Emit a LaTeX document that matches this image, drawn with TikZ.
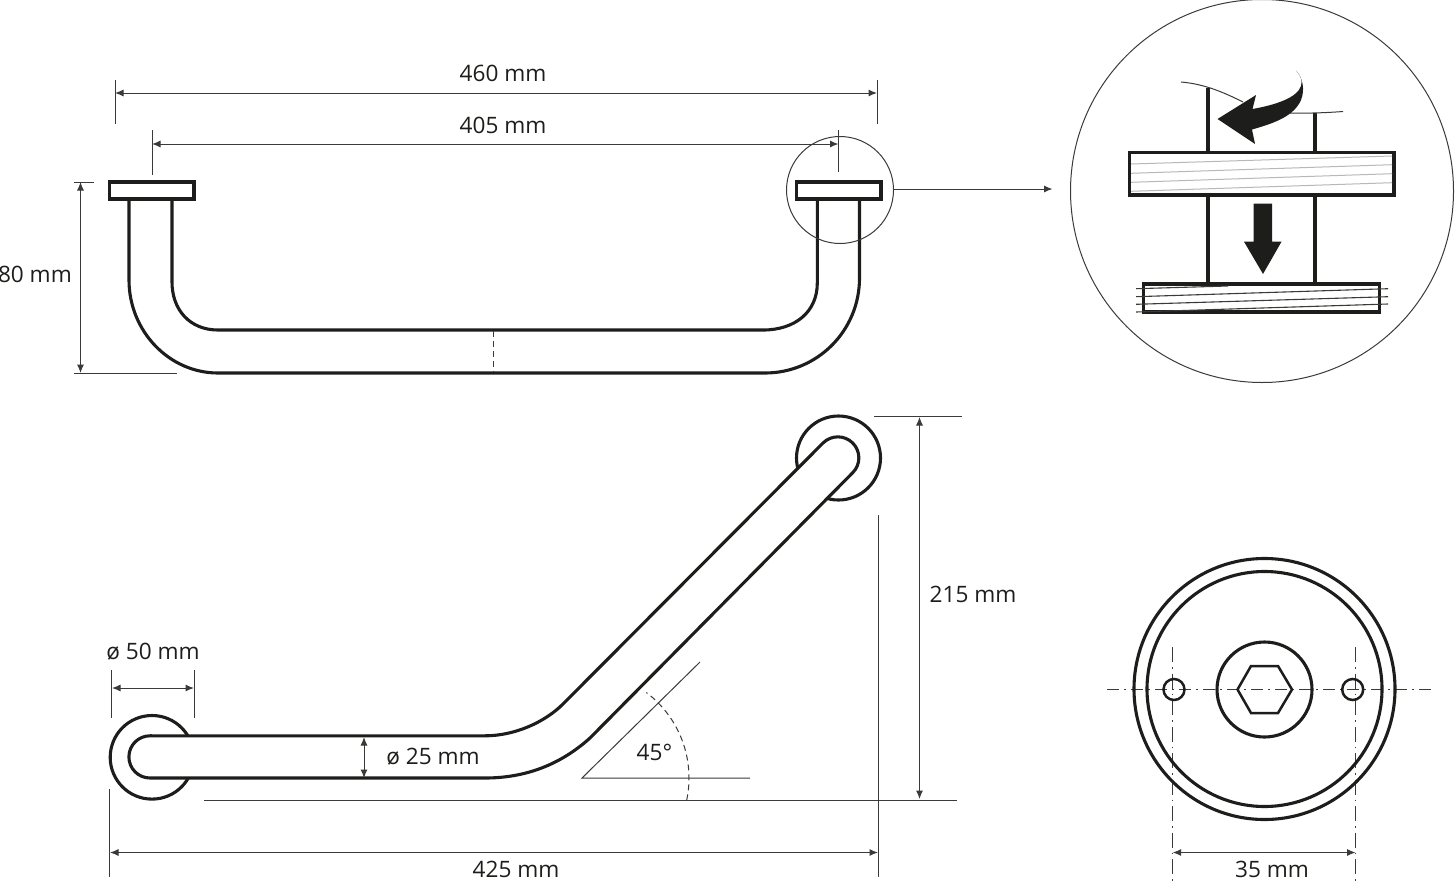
\documentclass[tikz,border=0pt]{standalone}
\usepackage{fontspec}
\setmainfont{Open Sans}
\usetikzlibrary{arrows.meta}
\definecolor{ink}{HTML}{1D1D1B}
\definecolor{thin}{HTML}{3A3A38}
\tikzset{
  heavy/.style={draw=ink,line width=3.1pt,line join=miter},
  fine/.style={draw=thin,line width=1pt},
  dim/.style={draw=thin,line width=1pt,{Latex[length=8.5pt,width=7pt]}-{Latex[length=8.5pt,width=7pt]}},
  dimone/.style={draw=thin,line width=1pt,-{Latex[length=8.5pt,width=7pt]}},
  lbl/.style={font=\fontsize{22.6pt}{25pt}\selectfont,text=ink,inner sep=0pt},
  grain/.style={draw=black!28,line width=1pt},
  grainb/.style={draw=thin,line width=1.1pt},
  centre/.style={draw=thin,line width=1pt,dash pattern=on 12pt off 5pt on 2pt off 5pt},
  dashline/.style={draw=thin,line width=1pt,dash pattern=on 6pt off 4pt},
  vdash/.style={draw=thin,line width=1pt,dash pattern=on 15pt off 5pt on 1.5pt off 5pt},
}
\begin{document}
\begin{tikzpicture}[x=1pt,y=-1pt]
\useasboundingbox (0,0) rectangle (1455,881);
% ---------- top view
\path[heavy] (129,199) -- (129,280) .. controls (129,331) and (169,373) .. (218,373)
  -- (765,373) .. controls (817,373) and (859.5,331) .. (859.5,278) -- (859.5,199);
\path[heavy] (172,199) -- (172,282) .. controls (172,310) and (190,330) .. (218,330)
  -- (763,330) .. controls (795,330) and (817.3,312) .. (817.3,283) -- (817.3,199);
\path[heavy,fill=white] (109.5,182) rectangle (194,199);
\path[heavy,fill=white] (796.5,182) rectangle (881,199);
\draw[dashline] (493,331) -- (493,372);
% dimensions top
\coordinate (a1) at (115,93); \coordinate (a2) at (877,93);
\draw[dim] (a1) -- (a2);
\draw[fine] (115,80) -- (115,124) (877.5,80) -- (877.5,124);
\node[lbl] (t460) at (503,73.5) {460 mm};
\coordinate (b1) at (152,144); \coordinate (b2) at (838.5,144);
\draw[dim] (b1) -- (b2);
\draw[fine] (152,130) -- (152,175) (838.5,130) -- (838.5,172);
\node[lbl] (t405) at (503,125.5) {405 mm};
\coordinate (c1) at (80.5,182); \coordinate (c2) at (80.5,373);
\draw[dim] (c1) -- (c2);
\draw[fine] (74,182) -- (94,182) (74,373) -- (177,373);
\node[lbl,anchor=east] (t80) at (72,274.5) {80 mm};
% detail circle and pointer
\draw[fine] (840,190) circle[radius=53.5pt];
\coordinate (d1) at (894,189); \coordinate (d2) at (1052.5,189);
\draw[dimone] (d1) -- (d2);
\draw[fine] (1262,191) circle[radius=191.5pt];
% detail content
\path[heavy] (1208,87.5) -- (1208,152) (1315,113) -- (1315,152)
  (1208,195) -- (1208,284) (1315,195) -- (1315,284);
\path[heavy,fill=white] (1129.5,152.5) rectangle (1394,195);
\path[heavy,fill=white] (1143.5,284) rectangle (1379.5,312);
\foreach \a/\b in {164/156,173.3/164.7,182.3/173.7,191.3/182.7}
  \draw[grain] (1131,\a) -- (1392,\b);
\draw[grainb] (1136,288.7) -- (1228,286);
\foreach \a/\b in {296.7/288.7,304.3/296.7,312/304}
  \draw[grainb] (1136,\a) -- (1388,\b);
\draw[fine] (1181,82) .. controls (1205,84) and (1225,93) .. (1243,102);
\draw[fine] (1290,113) .. controls (1310,113.5) and (1330,112.5) .. (1343,111.5);
\fill[ink] (1217.5,119) -- (1256,95) -- (1252.5,109)
  .. controls (1275,105) and (1297,98) .. (1301,86) .. controls (1303,80) and (1300,75) .. (1296,70.5)
  .. controls (1303,78) and (1305,90) .. (1301,100)
  .. controls (1294,116) and (1275,123) .. (1252,129.5)
  -- (1255,144) -- cycle;
\fill[ink] (1253.7,203.5) -- (1272,203.5) -- (1272,241.7) -- (1281.5,241.7) -- (1263,274) -- (1244,241.7) -- (1253.7,241.7) -- cycle;
% ---------- front view, flanges then tube
\path[heavy,fill=white] (838.5,458) circle[radius=42pt];
\path[heavy,fill=white] (152,757.3) circle[radius=41.8pt];
\path[heavy,fill=white] (150,735.8) -- (485,735.8) .. controls (515,735.8) and (545,722) .. (563,704)
  -- (823,443) arc[start angle=135,end angle=-45,radius=21pt]
  -- (590,738) .. controls (560,765) and (525,778) .. (485,778) -- (150,778)
  arc[start angle=270,end angle=90,radius=21.1pt] -- cycle;
% front dims
\coordinate (e1) at (112,688); \coordinate (e2) at (194,688);
\draw[dim] (e1) -- (e2);
\draw[fine] (111,670) -- (111,718) (194,670) -- (194,718);
\node[lbl] (t50) at (153,652) {ø 50 mm};
\coordinate (f1) at (364,737); \coordinate (f2) at (364,778);
\draw[dim] (f1) -- (f2);
\node[lbl] (t25) at (433,757) {ø 25 mm};
\coordinate (g1) at (919.5,417); \coordinate (g2) at (919.5,799);
\draw[dim] (g1) -- (g2);
\draw[fine] (874,416.5) -- (962,416.5) (204,800.5) -- (957,800.5) (878.5,515) -- (878.5,877) (109,789) -- (109,877);
\node[lbl] (t215) at (973,594) {215 mm};
\coordinate (h1) at (110,852.5); \coordinate (h2) at (878,852.5);
\draw[dim] (h1) -- (h2);
\node[lbl] (t425) at (516,869) {425 mm};
% angle
\coordinate (o) at (582,778); \coordinate (o1) at (700,662); \coordinate (o2) at (750,778);
\draw[fine] (o1) -- (o) -- (o2);
\draw[dashline] plot[domain=-12:53,samples=40] ({582+107*cos(\x)},{778-107*sin(\x)});
\node[lbl] (t45) at (654.5,752.5) {45°};
% ---------- rosette
\draw[centre] (1107,689) -- (1431,689);
\draw[vdash] (1172.7,647) -- (1172.7,881) (1355.5,647) -- (1355.5,881);
\path[heavy] (1264.5,689) circle[radius=130.5pt];
\path[heavy] (1264.5,689) circle[radius=117.5pt];
\path[heavy] (1264.5,689.5) circle[radius=47.5pt];
\path[heavy,line width=2.5pt] (1237.5,689.5) -- (1251,666) -- (1278,666) -- (1292,689.5) -- (1278,713) -- (1251,713) -- cycle;
\path[heavy,line width=2.5pt] (1174,689.5) circle[radius=10.5pt];
\path[heavy,line width=2.5pt] (1352.7,689.5) circle[radius=10.5pt];
\coordinate (k1) at (1172.7,852.5); \coordinate (k2) at (1355.5,852.5);
\draw[dim] (k1) -- (k2);
\node[lbl] (t35) at (1272,869.5) {35 mm};
\end{tikzpicture}
\end{document}
